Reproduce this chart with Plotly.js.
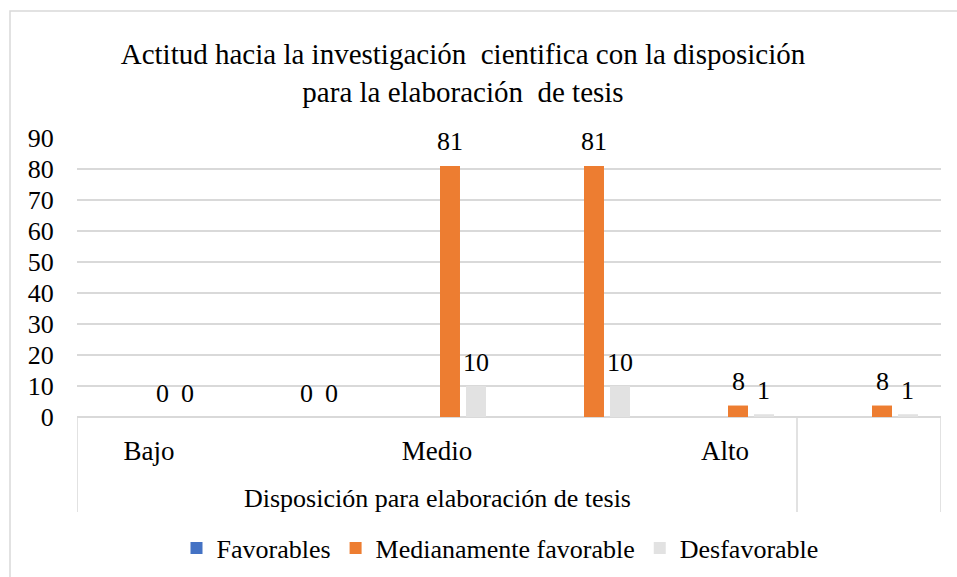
<!DOCTYPE html>
<html><head><meta charset="utf-8">
<script src="https://cdn.plot.ly/plotly-3.0.1.min.js"></script>
</head><body style="margin:0">
<div id="chart"></div>
<script>
// ---- data ----
const categories = ["Bajo", "", "Medio", "", "Alto", ""];
const groupLabel = "Disposición para elaboración de tesis";
const seriesNames = ["Favorables", "Medianamente favorable", "Desfavorable"];
const favorables = [0, 0, 0, 0, 0, 0];
const hiddenSeries = [0, 0, 0, 0, 0, 0];
const medianamente = [0, 0, 81, 81, 3.7, 3.7];
const desfavorable = [0, 0, 10, 10, 0.9, 0.9];
const medianamenteLabels = ["0", "0", "81", "81", "8", "8"];
const desfavorableLabels = ["0", "0", "10", "10", "1", "1"];
const yTicks = [0, 10, 20, 30, 40, 50, 60, 70, 80, 90];
const titleText = "Actitud hacia la investigación  cientifica con la disposición<br>para la elaboración  de tesis";

// ---- styling ----
const FONT = "Times New Roman";
const colors = ["#4472C4", "#ED7D31", "#E2E2E2"];
const bargap = 0.278, nSlots = 4;
const slot = (1 - bargap) / nSlots;
const xIdx = categories.map((_, i) => i);

const traces = [
  {type: "bar", name: seriesNames[0], x: xIdx, y: favorables, marker: {color: colors[0]}},
  {type: "bar", name: "", x: xIdx, y: hiddenSeries, marker: {color: "rgba(0,0,0,0)"}, showlegend: false},
  {type: "bar", name: seriesNames[1], x: xIdx, y: medianamente, marker: {color: colors[1]}},
  {type: "bar", name: seriesNames[2], x: xIdx, y: desfavorable, marker: {color: colors[2]}}
];

const annotations = [];
xIdx.forEach(i => {
  annotations.push({x: i + 0.5 * slot, y: medianamente[i], xref: "x", yref: "y", text: medianamenteLabels[i],
    showarrow: false, yanchor: "middle", yshift: 24, font: {family: FONT, size: 26, color: "#000"}});
  annotations.push({x: i + 1.5 * slot, y: desfavorable[i], xref: "x", yref: "y", text: desfavorableLabels[i],
    showarrow: false, yanchor: "middle", yshift: 24, font: {family: FONT, size: 26, color: "#000"}});
});
annotations.push({x: 2, y: 0, xref: "x", yref: "paper", yshift: -81, text: groupLabel, showarrow: false,
  yanchor: "middle", font: {family: FONT, size: 26, color: "#000"}});

const divLen = -95 / 279;
const shapes = [-0.5, 4.5, 5.5].map(xv => ({type: "line", xref: "x", yref: "paper", x0: xv, x1: xv, y0: 0, y1: divLen,
  line: {color: "#d9d9d9", width: 1.5}}));
shapes.push({type: "rect", xref: "paper", yref: "paper", x0: (10 - 77) / 864, x1: (975 - 77) / 864,
  y0: (417 - 600) / 279, y1: (417 - 11) / 279, line: {color: "#d9d9d9", width: 1.5}, fillcolor: "rgba(0,0,0,0)"});

const layout = {
  width: 957, height: 577,
  font: {family: FONT, size: 26, color: "#000"},
  margin: {l: 77, r: 16, t: 138, b: 160},
  barmode: "group", bargap: bargap, bargroupgap: 0.231,
  title: {text: titleText, x: 463 / 957, xanchor: "center", xref: "container", y: 1 - 64 / 577, yanchor: "top",
    yref: "container", font: {family: FONT, size: 29, color: "#000"}},
  xaxis: {range: [-0.5, 5.5], tickvals: xIdx, ticktext: categories, showgrid: false, zeroline: false,
    showline: false, ticks: "outside", ticklen: 10, tickcolor: "rgba(0,0,0,0)",
    tickfont: {family: FONT, size: 27, color: "#000"}},
  yaxis: {range: [0, 90], tickvals: yTicks, showgrid: true, gridcolor: "#d9d9d9", gridwidth: 1.5,
    zeroline: true, zerolinecolor: "#d9d9d9", zerolinewidth: 1.5, showline: false,
    ticks: "outside", ticklen: 17, tickcolor: "rgba(0,0,0,0)",
    tickfont: {family: FONT, size: 26, color: "#000"}},
  legend: {orientation: "h", xref: "container", yref: "container", x: 500 / 957, xanchor: "center",
    y: 1 - 548 / 577, yanchor: "middle", font: {family: FONT, size: 26, color: "#000"}},
  annotations: annotations,
  shapes: shapes,
  showlegend: true
};

Plotly.newPlot("chart", traces, layout, {displayModeBar: false});
</script>
</body></html>
